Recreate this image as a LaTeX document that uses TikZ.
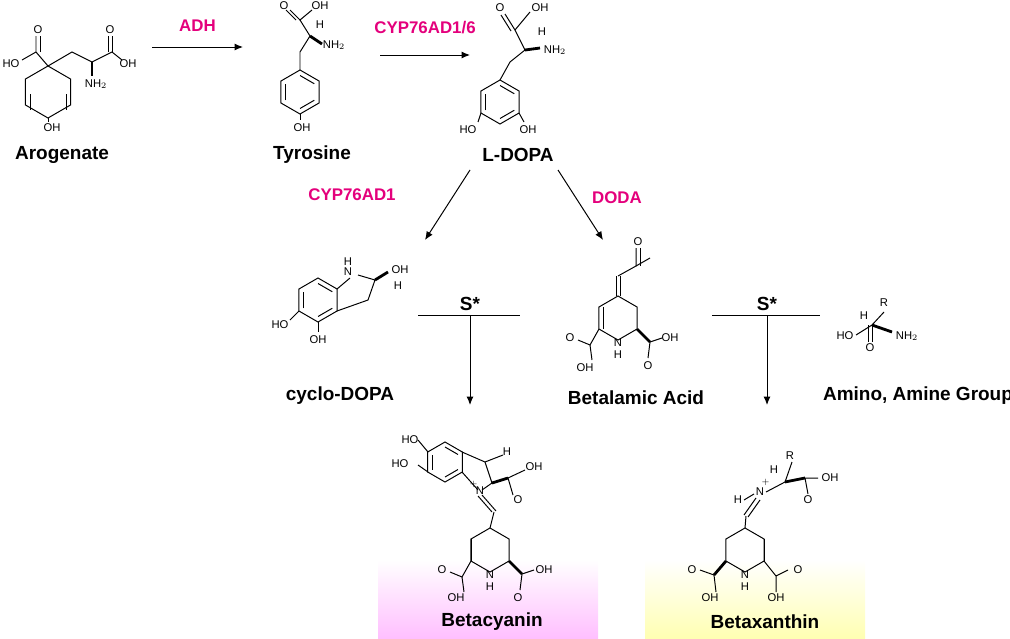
\documentclass[tikz,border=0pt]{standalone}
\usepackage{fontspec}
\setmainfont{Liberation Sans}
\usetikzlibrary{calc,positioning,arrows.meta}
\definecolor{enzpink}{RGB}{228,0,124}
\tikzset{bond/.style={line width=0.7pt}}
\tikzset{atom/.style={inner sep=0.5pt, font=\fontsize{8}{9}\selectfont}}
\tikzset{cpd/.style={inner sep=1pt, font=\bfseries\fontsize{13.5}{15}\selectfont}}
\tikzset{enz/.style={inner sep=1pt, text=enzpink, font=\bfseries\fontsize{12}{14}\selectfont}}
\tikzset{line/.style={draw, line width=0.7pt, -{Latex[length=6pt,width=5pt]}}}
\newcommand{\hexring}[3]{%
  \draw[bond] (#1,#2) +(30:#3) -- +(90:#3) -- +(150:#3) -- +(210:#3) -- +(270:#3) -- +(330:#3) -- cycle;}
\newcommand{\arom}[3]{%
  \hexring{#1}{#2}{#3}
  \foreach \i in {0,2,4} {\draw[bond] (#1,#2) +(30+60*\i:0.75*#3) -- +(90+60*\i:0.75*#3);}}
\begin{document}
\begin{tikzpicture}[x=0.025cm,y=-0.025cm]
\useasboundingbox (0,0) rectangle (1010,638);
% glow boxes
\shade[top color=white, bottom color=magenta!25] (378,560) rectangle (598,638);
\shade[top color=white, bottom color=yellow!30] (645,560) rectangle (865,638);
% --- arogenate
\hexring{48}{92}{26}
\draw[bond] (30,94) -- (30,110);
\draw[bond] (66,94) -- (66,110);
\draw[bond] (48,66) -- (36,52) -- (36,36);
\draw[bond] (40,52) -- (40,36);
\draw[bond] (36,52) -- (22,60);
\node[atom] (ohA) at (11,64) {HO};
\node[atom] at (38,30) {O};
\draw[bond] (48,66) -- (72,52) -- (92,62) -- (112,52) -- (122,60);
\draw[bond] (112,52) -- (112,36);\draw[bond] (108,52) -- (108,36);
\node[atom] at (110,30) {O};
\node[atom] at (128,64) {OH};
\draw[line width=2pt] (92,62) -- (92,76);
\node[atom] at (96,84) {NH$_2$};
\draw[bond] (48,118) -- (48,122);
\node[atom] at (52,128) {OH};
\node[cpd] (arog) at (62,155) {Arogenate};
% --- tyrosine
\arom{300}{92}{22}
\draw[bond] (300,70) -- (300,52) -- (310,36) -- (300,20) -- (312,10);
\draw[bond] (300,20) -- (290,10);\draw[bond] (296,20) -- (286,10);
\node[atom] at (284,6) {O};
\node[atom] at (320,6) {OH};
\node[atom] at (320,25) {H};
\draw[line width=2pt] (310,36) -- (322,44);
\node[atom] at (334,45) {NH$_2$};
\draw[bond] (300,114) -- (300,120);
\node[atom] at (302,128) {OH};
\node[cpd] (tyr) at (312,155) {Tyrosine};
% --- L-DOPA
\arom{500}{102}{22}
\draw[bond] (500,80) -- (510,62) -- (525,50) -- (515,30) -- (530,12);
\draw[bond] (515,30) -- (505,14);\draw[bond] (511,31) -- (501,15);
\node[atom] at (500,8) {O};
\node[atom] at (540,8) {OH};
\node[atom] at (542,32) {H};
\draw[line width=2pt] (525,50) -- (540,48);
\node[atom] at (555,50) {NH$_2$};
\draw[bond] (481,113) -- (478,122);\draw[bond] (519,113) -- (524,122);
\node[atom] at (468,130) {HO};
\node[atom] at (528,130) {OH};
\node[cpd] (dopa) at (518,155) {L-DOPA};
% --- top arrows
\coordinate (a1s) at (152,47);\coordinate (a1e) at (243,47);
\path[line] (a1s) -- (a1e) node[enz, midway, above=10pt] {ADH};
\coordinate (a2s) at (380,55);\coordinate (a2e) at (470,55);
\path[line] (a2s) -- (a2e) node[enz, midway, above=14pt] {CYP76AD1/6};
\coordinate (a3s) at (470,170);\coordinate (a3e) at (425,240);
\coordinate (a4s) at (558,170);\coordinate (a4e) at (603,240);
\path[line] (a3s) -- (a3e);
\path[line] (a4s) -- (a4e);
\node[enz] at (352,195) {CYP76AD1};
\node[enz] at (617,198) {DODA};
% --- cyclo-DOPA
\arom{318}{300}{22}
\draw[bond] (337,289) -- (350,278) (337,311) -- (368,300) -- (375,280) -- (358,275);
\node[atom] at (348,272) {N};\node[atom] at (348,262) {H};
\draw[line width=2pt] (375,280) -- (388,272);
\node[atom] at (400,270) {OH};
\node[atom] at (398,286) {H};
\draw[bond] (299,311) -- (290,320); \draw[bond] (318,322) -- (318,332);
\node[atom] at (280,325) {HO};
\node[atom] at (318,340) {OH};
\node[cpd] (cdopa) at (340,396) {cyclo-DOPA};
% --- reaction S* left
\coordinate (s1l) at (418,315);\coordinate (s1r) at (520,315);
\coordinate (s1m) at (470,315);\coordinate (s1e) at (470,405);
\draw[line width=0.7pt] (s1l) -- (s1r);
\node[cpd, above=2pt] at (s1m) {S*};
\path[line] (s1m) -- (s1e);
% --- betalamic acid
\hexring{618}{318}{22}
\draw[bond] (603,307) -- (603,329);
\draw[bond] (616,296) -- (616,276); \draw[bond] (620,296) -- (620,276);
\draw[bond] (618,276) -- (636,266) -- (636,248);\draw[bond] (640,266) -- (640,248);
\draw[bond] (636,266) -- (650,258);
\node[atom] at (638,242) {O};
\node[atom] at (618,343) {N};\node[atom] at (618,355) {H};
\draw[bond] (599,329) -- (590,345) -- (578,340);\draw[bond] (590,345) -- (592,360);
\node[atom] at (570,338) {O};\node[atom] at (585,368) {OH};
\draw[line width=2pt] (637,329) -- (650,342);
\draw[bond] (650,342) -- (662,338);\draw[bond] (650,342) -- (648,358);
\node[atom] at (670,338) {OH};\node[atom] at (648,366) {O};
\node[cpd] (betal) at (636,398) {Betalamic Acid};
% --- reaction S* right
\coordinate (s2l) at (712,315);\coordinate (s2r) at (820,315);
\coordinate (s2m) at (767,315);\coordinate (s2e) at (767,405);
\draw[line width=0.7pt] (s2l) -- (s2r);
\node[cpd, above=2pt] at (s2m) {S*};
\path[line] (s2m) -- (s2e);
% --- amino group
\draw[bond] (856,335) -- (872,325) -- (884,312);
\draw[line width=2pt] (872,325) -- (892,332);
\draw[bond] (872,325) -- (872,342);\draw[bond] (868,325) -- (868,342);
\node[atom] at (845,336) {HO};\node[atom] at (870,348) {O};
\node[atom] at (884,303) {R};\node[atom] at (864,316) {H};
\node[atom] at (907,336) {NH$_2$};
\node[cpd] (amino) at (918,396) {Amino, Amine Group};
% --- betacyanin
\arom{445}{462}{20}
\draw[bond] (462,452) -- (485,462) -- (492,483) -- (482,490) (462,472) -- (478,490);
\node[atom] at (480,491) {N};\node[atom] at (474,486) {$^+$};
\draw[bond] (485,462) -- (503,455);\node[atom] at (507,452) {H};
\draw[line width=2pt] (492,483) -- (508,478);
\node[atom] at (534,467) {OH};\node[atom] at (518,500) {O};
\draw[bond] (508,478) -- (525,470) (508,478) -- (513,495);
\draw[bond] (428,452) -- (418,440) (428,472) -- (418,465);
\node[atom] at (410,440) {HO};\node[atom] at (400,464) {HO};
\draw[bond] (478,496) -- (492,512) (482,495) -- (496,511);
\draw[bond] (494,512) -- (490,528);
\hexring{490}{550}{22}
\draw[bond] (471,539) -- (471,561);
\node[atom] at (490,575) {N};\node[atom] at (490,587) {H};
\draw[bond] (471,561) -- (462,577) -- (450,572);\draw[bond] (462,577) -- (464,592);
\node[atom] at (442,570) {O};\node[atom] at (456,598) {OH};
\draw[line width=2pt] (509,561) -- (522,574);
\draw[bond] (522,574) -- (534,570);\draw[bond] (522,574) -- (520,590);
\node[atom] at (544,570) {OH};\node[atom] at (518,598) {O};
\node[cpd] (bcy) at (492,622) {Betacyanin};
% --- betaxanthin
\node[atom] at (738,500) {H};\node[atom] at (760,492) {N};\node[atom] at (766,484) {$^+$};
\draw[bond] (744,500) -- (754,494);
\draw[bond] (766,492) -- (785,482) -- (792,462);
\node[atom] at (790,456) {R};\node[atom] at (774,470) {H};
\draw[line width=2pt] (785,482) -- (805,478);
\draw[bond] (805,478) -- (818,478) (805,478) -- (808,494);
\node[atom] at (830,478) {OH};\node[atom] at (808,500) {O};
\draw[bond] (756,498) -- (744,515) (760,500) -- (748,517);
\draw[bond] (746,516) -- (745,528);
\hexring{745}{550}{22}
\draw[bond] (764,539) -- (764,561);
\node[atom] at (745,575) {N};\node[atom] at (745,587) {H};
\draw[line width=2pt] (726,561) -- (714,575);
\draw[bond] (714,575) -- (700,570) (714,575) -- (716,592);
\node[atom] at (692,570) {O};\node[atom] at (710,598) {OH};
\draw[bond] (764,561) -- (776,576) -- (788,570) (776,576) -- (776,592);
\node[atom] at (798,570) {O};\node[atom] at (776,598) {OH};
\node[cpd] (bxa) at (765,622) {Betaxanthin};
\end{tikzpicture}
\end{document}
